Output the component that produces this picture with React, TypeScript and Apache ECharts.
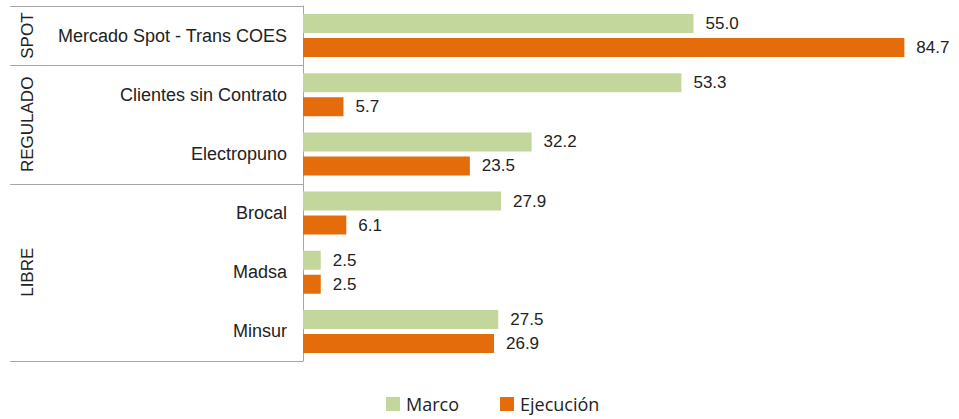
import React, { useEffect, useRef } from "react";
import * as echarts from "echarts";

const categories = [
  "Mercado Spot - Trans COES",
  "Clientes sin Contrato",
  "Electropuno",
  "Brocal",
  "Madsa",
  "Minsur",
];
const marco = [55.0, 53.3, 32.2, 27.9, 2.5, 27.5];
const ejecucion = [84.7, 5.7, 23.5, 6.1, 2.5, 26.9];
const groupNames = ["SPOT", "REGULADO", "LIBRE"];
const groupSizes = [1, 2, 3];
const seriesNames = ["Marco", "Ejecución"];

const W = 959;
const H = 419;
const GRID_LEFT = 303;
const GRID_TOP = 6;
const GRID_BOTTOM_Y = 361;
const LEFT_EDGE = 10;
const LINE_COLOR = "#a6a6a6";
const TEXT_COLOR = "#222222";
const FONT = "'Liberation Sans', Arial, sans-serif";

export default function App() {
  const ref = useRef<HTMLDivElement>(null);
  useEffect(() => {
    if (!ref.current) return;
    const chart = echarts.init(ref.current, undefined, { renderer: "svg", width: W, height: H });
    const gridH = GRID_BOTTOM_Y - GRID_TOP;
    const band = gridH / categories.length;
    const graphics: any[] = [];
    let idx = 0;
    const bounds = [0];
    groupSizes.forEach((s) => {
      idx += s;
      bounds.push(idx);
    });
    bounds.forEach((b) => {
      const y = Math.round(GRID_TOP + b * band) + 0.5;
      graphics.push({
        type: "line",
        shape: { x1: LEFT_EDGE, y1: y, x2: GRID_LEFT, y2: y },
        style: { stroke: LINE_COLOR, lineWidth: 1 },
        silent: true,
      });
    });
    groupNames.forEach((g, i) => {
      const yc = GRID_TOP + ((bounds[i] + bounds[i + 1]) / 2) * band;
      graphics.push({
        type: "text",
        x: 27,
        y: yc,
        rotation: Math.PI / 2,
        style: {
          text: g,
          fontSize: 17,
          fontFamily: FONT,
          fill: TEXT_COLOR,
          align: "center",
          verticalAlign: "middle",
        },
        silent: true,
      });
    });

    const labelCfg = {
      show: true,
      position: "right",
      distance: 12,
      fontSize: 17,
      fontFamily: FONT,
      color: TEXT_COLOR,
      formatter: (p: any) => Number(p.value).toFixed(1),
    };

    chart.setOption({
      animation: false,
      grid: { left: GRID_LEFT, top: GRID_TOP, right: 17, bottom: H - GRID_BOTTOM_Y, containLabel: false },
      legend: {
        data: seriesNames,
        left: 381,
        top: 390,
        icon: "rect",
        itemWidth: 14,
        itemHeight: 14,
        itemGap: 41,
        textStyle: { fontFamily: "'Open Sans', sans-serif", fontSize: 18, color: TEXT_COLOR, padding: [0, 0, 0, 1] },
      },
      xAxis: {
        type: "value",
        min: 0,
        max: 90,
        show: false,
        splitLine: { show: false },
      },
      yAxis: {
        type: "category",
        data: categories,
        inverse: true,
        axisLine: { show: true, lineStyle: { color: LINE_COLOR, width: 1 } },
        axisTick: { show: false },
        axisLabel: { margin: 16, fontSize: 18, fontFamily: FONT, color: TEXT_COLOR },
      },
      series: [
        {
          name: seriesNames[0],
          type: "bar",
          data: marco,
          barWidth: 19,
          barGap: "26%",
          itemStyle: { color: "#c3d69b" },
          label: labelCfg,
        },
        {
          name: seriesNames[1],
          type: "bar",
          data: ejecucion,
          barWidth: 19,
          barGap: "26%",
          itemStyle: { color: "#e46c0a" },
          label: labelCfg,
        },
      ],
      graphic: graphics,
    });
    return () => chart.dispose();
  }, []);
  return <div ref={ref} style={{ position: "absolute", left: 0, top: 0, width: W, height: H }} />;
}
